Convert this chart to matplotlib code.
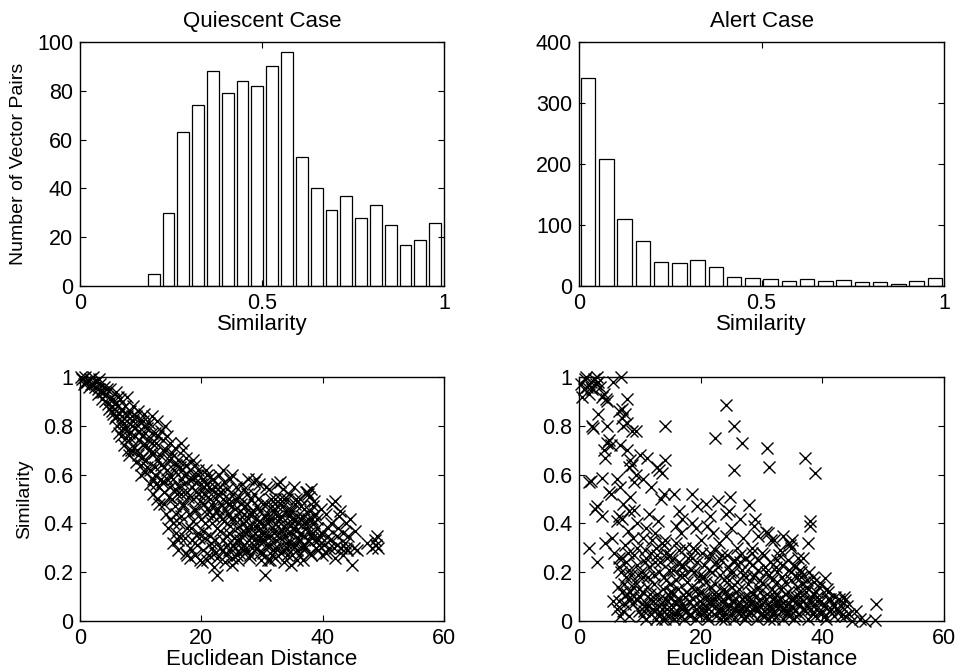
import numpy as np
import matplotlib.pyplot as plt
from matplotlib.ticker import FormatStrFormatter

plt.rcParams['font.family'] = ['Liberation Sans', 'DejaVu Sans']

# histogram counts (20 bins each, MATLAB hist style)
quiet_counts = [5, 30, 63, 74, 88, 79, 84, 82, 90, 96,
                53, 40, 31, 37, 28, 33, 25, 17, 19, 26]
quiet_range = (0.182, 0.996)
alert_counts = [341, 208, 110, 73, 39, 38, 43, 31, 15, 13,
                11, 9, 11, 9, 10, 6, 7, 4, 9, 13]
alert_range = (0.0, 1.0)

# quiescent case: euclidean distance vs similarity
q_dist = [
    0.3, 0.8, 1.2, 1.6, 2.0, 2.2, 0.6, 1.5,
    2.6, 3.0, 3.3, 3.8, 2.9, 4.0, 3.6,
    4.3, 4.6, 4.9, 5.2, 5.4, 5.7, 5.9, 4.8,
    6.1, 6.3, 6.6, 6.8, 7.0, 7.2, 7.4, 7.6, 7.8, 6.5, 7.3,
    8.1, 8.3, 8.5, 8.7, 8.9, 9.1, 9.3, 9.5, 9.7, 9.9, 8.6, 9.4,
    10.1, 10.3, 10.5, 10.7, 10.9, 11.1, 11.3, 11.5, 11.7, 11.9, 10.6, 11.2, 11.8, 10.4,
    12.1, 12.3, 12.5, 12.7, 12.9, 13.1, 13.3, 13.5, 13.7, 13.9, 12.6, 13.2, 13.8, 12.4, 14.0,
    14.1, 14.3, 14.5, 14.7, 14.9, 15.1, 15.3, 15.5, 15.7, 15.9, 14.6, 15.2, 15.8, 14.4, 15.6, 15.0,
    16.1, 16.3, 16.5, 16.7, 16.9, 17.1, 17.3, 17.5, 17.7, 17.9, 16.6, 17.2, 17.8, 16.4, 17.0, 16.8,
    18.1, 18.3, 18.5, 18.7, 18.9, 19.1, 19.3, 19.5, 19.7, 19.9, 18.6, 19.2, 19.8, 18.4, 19.0, 19.4,
    20.1, 20.3, 20.5, 20.7, 20.9, 21.1, 21.3, 21.5, 21.7, 21.9, 20.6, 21.2, 21.8, 20.4, 21.0, 21.4,
    22.1, 22.3, 22.5, 22.7, 22.9, 23.1, 23.3, 23.5, 23.7, 23.9, 22.6, 23.2, 23.8, 22.4, 23.0, 23.6,
    24.1, 24.3, 24.5, 24.7, 24.9, 25.1, 25.3, 25.5, 25.7, 25.9, 24.6, 25.2, 25.8, 24.4, 25.0, 25.4,
    26.1, 26.3, 26.5, 26.7, 26.9, 27.1, 27.3, 27.5, 27.7, 27.9, 26.6, 27.2, 27.8, 26.4, 27.0, 27.4,
    28.1, 28.3, 28.5, 28.7, 28.9, 29.1, 29.3, 29.5, 29.7, 29.9, 28.6, 29.2, 29.8, 28.4, 29.0, 29.4,
    30.1, 30.3, 30.5, 30.7, 30.9, 31.1, 31.3, 31.5, 31.7, 31.9, 30.6, 31.2, 31.8, 30.4, 31.0, 31.4,
    32.1, 32.3, 32.5, 32.7, 32.9, 33.1, 33.3, 33.5, 33.7, 33.9, 32.6, 33.2, 33.8, 32.4, 33.0, 33.6,
    34.1, 34.3, 34.5, 34.7, 34.9, 35.1, 35.3, 35.5, 35.7, 35.9, 34.6, 35.2, 35.8, 34.4, 35.0, 35.6,
    36.1, 36.3, 36.5, 36.7, 36.9, 37.1, 37.3, 37.5, 37.7, 37.9, 36.6, 37.2, 37.8, 36.4, 37.0, 37.6,
    38.1, 38.3, 38.5, 38.7, 38.9, 39.1, 39.3, 39.5, 39.7, 39.9, 38.6, 39.2,
    40.3, 40.6, 40.9, 41.2, 41.5, 41.8, 42.1, 42.4, 42.7, 43.0, 40.5, 42.0,
    43.3, 43.6, 43.9, 44.2, 44.5, 44.8, 45.1, 45.4, 45.7, 44.0,
    47.3, 48.2, 48.6, 49.0, 49.2, 48.8,
    # second pass over the dense band
    0.1, 0.9, 1.8, 2.4, 3.1, 3.4, 4.2, 4.5, 5.0, 5.3,
    5.5, 5.8, 6.0, 6.2, 6.4, 6.7, 6.9, 7.1, 7.5, 7.7, 7.9,
    8.0, 8.2, 8.4, 8.8, 9.0, 9.2, 9.6, 9.8, 10.0,
    10.2, 10.4, 10.8, 11.0, 11.4, 11.6, 11.9, 12.0, 10.7,
    12.2, 12.4, 12.8, 13.0, 13.4, 13.6, 13.9, 12.7, 13.3,
    14.2, 14.4, 14.8, 15.0, 15.4, 15.6, 15.9, 14.8, 15.3, 16.0,
    16.2, 16.4, 16.8, 17.0, 17.4, 17.6, 17.9, 16.6, 17.6, 16.2, 17.4,
    18.2, 18.4, 18.8, 19.0, 19.4, 19.6, 19.9, 18.6, 19.6, 18.2, 19.0,
    20.2, 20.4, 20.8, 21.0, 21.4, 21.6, 21.9, 20.6, 21.6, 20.2, 21.0, 22.0,
    22.2, 22.4, 22.8, 23.0, 23.4, 23.6, 23.9, 22.6, 23.6, 22.2, 23.0,
    24.2, 24.4, 24.8, 25.0, 25.4, 25.6, 25.9, 24.6, 25.6, 24.2, 25.0,
    26.2, 26.4, 26.8, 27.0, 27.4, 27.6, 27.9, 26.6, 27.6, 26.2, 27.0,
    28.2, 28.4, 28.8, 29.0, 29.4, 29.6, 29.9, 28.6, 29.6, 28.2, 29.0,
    30.2, 30.4, 30.8, 31.0, 31.4, 31.6, 31.9, 30.6, 31.6, 30.2, 31.0,
    32.2, 32.4, 32.8, 33.0, 33.4, 33.6, 33.9, 32.6, 33.6, 32.2, 33.0,
    34.2, 34.4, 34.8, 35.0, 35.4, 35.6, 35.9, 34.6, 35.6, 34.2, 35.0,
    36.2, 36.4, 36.8, 37.0, 37.4, 37.6, 37.9, 36.6, 37.4, 38.0,
    38.2, 38.4, 38.8, 39.0, 39.4, 39.8, 38.4,
    40.8, 41.4, 41.0, 42.3, 42.6, 43.4, 43.8, 42.9,
]
q_sim = [
    0.99, 1.00, 0.98, 0.99, 0.97, 1.00, 0.97, 0.96,
    0.98, 0.95, 0.97, 0.94, 0.93, 0.96, 0.91,
    0.93, 0.89, 0.95, 0.86, 0.91, 0.83, 0.94, 0.87,
    0.80, 0.88, 0.91, 0.76, 0.84, 0.72, 0.88, 0.79, 0.92, 0.85, 0.81,
    0.68, 0.75, 0.84, 0.88, 0.71, 0.79, 0.65, 0.86, 0.74, 0.82, 0.80, 0.70,
    0.60, 0.67, 0.85, 0.77, 0.72, 0.63, 0.81, 0.56, 0.69, 0.84, 0.80, 0.74, 0.77, 0.72,
    0.52, 0.60, 0.73, 0.82, 0.66, 0.48, 0.78, 0.57, 0.70, 0.63, 0.56, 0.68, 0.53, 0.77, 0.80,
    0.44, 0.58, 0.38, 0.66, 0.73, 0.50, 0.32, 0.62, 0.54, 0.44, 0.51, 0.69, 0.36, 0.76, 0.71, 0.59,
    0.29, 0.40, 0.63, 0.73, 0.48, 0.56, 0.34, 0.67, 0.27, 0.44, 0.52, 0.60, 0.51, 0.35, 0.70, 0.58,
    0.26, 0.38, 0.58, 0.66, 0.46, 0.53, 0.31, 0.62, 0.25, 0.42, 0.50, 0.57, 0.49, 0.33, 0.64, 0.36,
    0.24, 0.29, 0.55, 0.62, 0.44, 0.51, 0.27, 0.59, 0.40, 0.47, 0.40, 0.55, 0.30, 0.48, 0.60, 0.35,
    0.22, 0.28, 0.19, 0.52, 0.60, 0.43, 0.48, 0.33, 0.57, 0.24, 0.38, 0.53, 0.41, 0.45, 0.30, 0.62,
    0.27, 0.35, 0.50, 0.58, 0.42, 0.23, 0.31, 0.46, 0.55, 0.38, 0.29, 0.52, 0.27, 0.44, 0.60, 0.34,
    0.25, 0.33, 0.48, 0.56, 0.40, 0.29, 0.36, 0.52, 0.58, 0.44, 0.30, 0.47, 0.26, 0.42, 0.54, 0.38,
    0.27, 0.35, 0.45, 0.57, 0.39, 0.30, 0.33, 0.56, 0.41, 0.25, 0.52, 0.47, 0.36, 0.30, 0.58, 0.50,
    0.28, 0.36, 0.19, 0.55, 0.42, 0.31, 0.25, 0.50, 0.38, 0.45, 0.48, 0.54, 0.29, 0.33, 0.40, 0.35,
    0.26, 0.33, 0.56, 0.41, 0.50, 0.28, 0.37, 0.54, 0.24, 0.45, 0.30, 0.43, 0.35, 0.47, 0.57, 0.39,
    0.27, 0.36, 0.52, 0.23, 0.42, 0.31, 0.38, 0.48, 0.25, 0.34, 0.45, 0.55, 0.29, 0.32, 0.40, 0.37,
    0.27, 0.33, 0.47, 0.25, 0.40, 0.30, 0.53, 0.52, 0.36, 0.28, 0.43, 0.38, 0.51, 0.36, 0.31, 0.42,
    0.27, 0.34, 0.49, 0.44, 0.30, 0.38, 0.29, 0.35, 0.46, 0.27, 0.40, 0.33,
    0.31, 0.28, 0.38, 0.33, 0.48, 0.30, 0.26, 0.35, 0.43, 0.30, 0.44, 0.49,
    0.27, 0.32, 0.40, 0.35, 0.42, 0.23, 0.30, 0.37, 0.29, 0.29,
    0.32, 0.30, 0.33, 0.35, 0.30, 0.31,
    # second pass over the dense band
    1.00, 0.98, 0.97, 0.96, 0.99, 0.94, 0.90, 0.95, 0.91, 0.88,
    0.85, 0.89, 0.84, 0.92, 0.77, 0.82, 0.87, 0.79, 0.75, 0.84, 0.70,
    0.77, 0.86, 0.70, 0.82, 0.76, 0.84, 0.68, 0.78, 0.64,
    0.76, 0.82, 0.66, 0.79, 0.70, 0.62, 0.73, 0.58, 0.61,
    0.69, 0.63, 0.76, 0.55, 0.64, 0.74, 0.48, 0.50, 0.58,
    0.70, 0.62, 0.55, 0.67, 0.58, 0.47, 0.64, 0.42, 0.40, 0.52,
    0.66, 0.55, 0.62, 0.47, 0.64, 0.53, 0.58, 0.43, 0.38, 0.33, 0.28,
    0.62, 0.55, 0.59, 0.45, 0.60, 0.52, 0.56, 0.41, 0.34, 0.30, 0.27,
    0.58, 0.52, 0.56, 0.46, 0.50, 0.54, 0.43, 0.34, 0.32, 0.37, 0.25, 0.58,
    0.55, 0.50, 0.46, 0.55, 0.42, 0.50, 0.46, 0.26, 0.29, 0.33, 0.37,
    0.54, 0.48, 0.39, 0.47, 0.42, 0.50, 0.33, 0.36, 0.30, 0.31, 0.26,
    0.51, 0.45, 0.37, 0.44, 0.41, 0.48, 0.33, 0.35, 0.29, 0.28, 0.31,
    0.50, 0.44, 0.36, 0.42, 0.39, 0.45, 0.33, 0.33, 0.28, 0.39, 0.30,
    0.48, 0.43, 0.35, 0.44, 0.42, 0.47, 0.36, 0.31, 0.27, 0.39, 0.25,
    0.50, 0.43, 0.36, 0.42, 0.47, 0.50, 0.32, 0.39, 0.29, 0.30, 0.34,
    0.50, 0.43, 0.36, 0.45, 0.42, 0.50, 0.40, 0.39, 0.31, 0.30, 0.27,
    0.50, 0.42, 0.35, 0.46, 0.40, 0.33, 0.45, 0.30, 0.53, 0.54,
    0.42, 0.36, 0.33, 0.42, 0.31, 0.36, 0.47,
    0.35, 0.40, 0.30, 0.31, 0.38, 0.36, 0.30, 0.45,
]

# alert case: euclidean distance vs similarity
a_dist = [
    # top-left cluster
    0.4, 0.8, 1.0, 1.3, 1.6, 1.9, 2.2, 2.5, 2.8, 3.0, 3.2, 3.5, 3.8, 4.1, 4.4,
    0.5, 1.1, 2.0, 6.9, 7.9, 5.6, 4.6,
    # diagonal arm
    2.1, 2.3, 3.2, 4.6, 6.5, 7.1, 7.0, 7.6, 7.9, 8.7, 9.3, 7.3, 4.6, 5.2, 4.1,
    4.3, 5.0, 7.9, 8.4, 8.2, 8.7, 9.3, 10.0, 11.2, 12.8, 13.2, 14.2, 13.6, 10.6,
    14.2, 6.8, 9.0, 11.8,
    # upper-right stragglers
    22.4, 24.1, 25.4, 26.8, 25.4, 30.9, 31.2, 37.2, 38.8,
    # left middle
    1.6, 2.0, 3.8, 6.2, 5.0, 5.3, 6.8, 3.0, 3.8, 2.7, 7.3, 8.4, 6.2, 9.0, 9.5,
    7.0, 6.6, 8.0, 8.8, 1.7, 3.0, 4.3, 5.7, 5.5, 7.5, 6.5, 9.5, 8.2,
    # middle band
    13.4, 14.0, 15.6, 16.5, 18.6, 19.4, 20.8, 21.5, 22.8, 24.9, 24.6, 27.9, 24.1,
    11.0, 12.0, 12.5, 13.7, 14.2, 14.0, 15.9, 16.8, 17.5, 18.5, 19.2, 20.0, 21.0,
    22.0, 23.0, 24.1, 25.0, 26.0, 27.0, 28.5, 28.7, 29.5, 30.7, 31.5, 32.0, 33.0,
    34.5, 34.7, 35.0, 34.9, 36.0, 37.7, 38.0, 38.0, 11.5, 10.5, 13.0, 17.0, 26.5,
    29.0, 31.0, 33.5, 10.8, 12.8, 15.0, 16.0, 19.0, 21.5, 23.5, 25.5, 27.5, 30.0,
    32.5, 35.5, 36.5,
    # dense floor
    6.6, 6.9, 7.2, 7.4, 7.7, 7.9, 6.2, 5.6,
    8.2, 8.4, 8.6, 8.9, 9.2, 9.5, 9.8, 9.0, 8.5,
    10.1, 10.3, 10.6, 10.9, 11.2, 11.5, 11.8, 11.0, 10.5, 11.6,
    12.1, 12.3, 12.6, 12.9, 13.2, 13.5, 13.8, 12.5, 13.0, 13.7,
    14.1, 14.3, 14.6, 14.9, 15.2, 15.5, 15.8, 14.5, 15.0, 15.6,
    16.1, 16.3, 16.6, 16.9, 17.2, 17.5, 17.8, 16.5, 17.0, 17.4,
    18.1, 18.3, 18.6, 18.9, 19.2, 19.5, 19.8, 18.5, 19.3, 19.9,
    20.1, 20.3, 20.6, 20.9, 21.2, 21.5, 21.8, 20.5, 21.3, 20.8,
    22.1, 22.3, 22.6, 22.9, 23.2, 23.5, 23.8, 22.5, 23.3, 23.9,
    24.1, 24.3, 24.6, 24.9, 25.2, 25.5, 25.8, 24.5, 25.3, 25.9,
    26.1, 26.3, 26.6, 26.9, 27.2, 27.5, 27.8, 26.5, 27.3, 27.9,
    28.1, 28.3, 28.6, 28.9, 29.2, 29.5, 29.8, 28.5, 29.4, 29.9,
    30.1, 30.3, 30.6, 30.9, 31.2, 31.5, 31.8, 30.5, 31.3, 31.9,
    32.1, 32.3, 32.6, 32.9, 33.2, 33.5, 33.8, 32.5, 33.4, 33.9,
    34.1, 34.3, 34.6, 34.9, 35.2, 35.5, 35.8, 34.5, 35.4, 35.9,
    36.1, 36.4, 36.7, 37.0, 37.3, 37.6, 37.9, 36.5, 37.5,
    38.2, 38.5, 38.8, 39.1, 39.4, 39.7, 38.6, 39.6,
    40.2, 40.4, 40.6, 40.9, 41.3, 41.7, 41.0, 41.9,
    42.3, 42.7, 43.1, 43.5, 43.7, 44.0, 44.4, 44.8, 43.0,
    45.5, 46.2, 48.7, 48.9, 47.0,
    # extra low-similarity pairs
    10.7, 11.4, 12.2, 12.9, 13.4, 14.4, 15.4, 16.0, 16.7, 17.8, 18.7, 19.6, 20.4,
    21.0, 21.7, 22.4, 23.0, 23.7, 24.4, 25.1, 25.6, 26.4, 27.0, 27.7, 28.4, 29.0,
    29.7, 30.4, 31.0, 31.7, 32.4, 33.0, 33.7, 34.4, 35.0, 35.7, 36.3, 37.2, 38.0,
    39.0, 15.0, 18.0, 24.0, 28.0, 32.0,
    # second pass: left block, 0.1-0.3 layer, floor
    6.4, 6.8, 7.0, 7.5, 7.8, 6.5, 8.1, 8.3, 8.8, 9.3, 9.7, 9.9, 7.1, 8.0,
    10.2, 10.8, 11.3, 11.9, 12.4, 12.7, 13.3, 13.9, 14.3, 14.8, 15.3, 15.9, 16.4,
    16.9, 17.3, 17.9, 18.4, 18.8, 19.4, 19.9, 20.3, 20.9, 21.4, 21.9, 22.3, 22.8,
    23.4, 23.9, 24.3, 24.8, 25.4, 25.9, 26.4, 26.8, 27.4, 27.9, 28.4, 28.8, 29.4,
    29.8, 30.4, 30.8, 31.4, 31.8, 32.4, 32.8, 33.4, 33.8, 34.4, 34.8, 35.4, 35.8,
    36.4, 36.8, 37.4, 37.8, 38.4, 39.0,
    10.4, 11.0, 11.7, 12.4, 13.1, 13.6, 14.2, 14.7, 15.3, 15.9, 16.4, 17.0, 17.6,
    18.2, 18.8, 19.4, 20.0, 20.6, 21.1, 21.6, 22.2, 22.8, 23.4, 24.0, 24.6, 25.2,
    25.8, 26.2, 26.8, 27.4, 28.0, 28.6, 29.2, 29.8, 30.2, 30.8, 31.4, 32.0, 32.6,
    33.2, 33.8, 34.2, 34.8, 35.6, 36.2, 36.8, 37.4, 38.4, 39.2, 40.0, 40.8, 41.5,
    42.0, 42.8, 39.8, 40.4, 41.2, 43.8,
]
a_sim = [
    0.97, 0.95, 0.99, 0.96, 0.93, 0.98, 0.95, 0.99, 0.97, 1.00, 0.98, 0.96, 0.92, 0.93, 0.91,
    0.92, 1.00, 0.96, 1.00, 0.91, 0.98, 0.90,
    0.80, 0.79, 0.85, 0.80, 0.86, 0.83, 0.87, 0.85, 0.81, 0.78, 0.78, 0.80, 0.73, 0.72, 0.70,
    0.67, 0.74, 0.70, 0.66, 0.63, 0.64, 0.60, 0.68, 0.67, 0.63, 0.62, 0.66, 0.605, 0.58,
    0.80, 0.72, 0.57, 0.55,
    0.75, 0.885, 0.80, 0.73, 0.62, 0.71, 0.63, 0.67, 0.605,
    0.57, 0.575, 0.585, 0.58, 0.53, 0.52, 0.55, 0.47, 0.43, 0.46, 0.48, 0.51, 0.41, 0.455, 0.40,
    0.42, 0.43, 0.37, 0.34, 0.30, 0.24, 0.32, 0.28, 0.34, 0.31, 0.26, 0.30, 0.45,
    0.50, 0.52, 0.52, 0.45, 0.52, 0.47, 0.48, 0.43, 0.49, 0.51, 0.45, 0.475, 0.44,
    0.38, 0.33, 0.36, 0.32, 0.33, 0.31, 0.39, 0.36, 0.30, 0.40, 0.38, 0.33, 0.39,
    0.36, 0.32, 0.35, 0.38, 0.30, 0.34, 0.30, 0.39, 0.35, 0.365, 0.33, 0.33, 0.29,
    0.32, 0.31, 0.33, 0.30, 0.26, 0.32, 0.41, 0.39, 0.44, 0.34, 0.41, 0.42, 0.42,
    0.42, 0.36, 0.35, 0.29, 0.27, 0.27, 0.32, 0.29, 0.28, 0.27, 0.25, 0.26, 0.28,
    0.25, 0.22, 0.20,
    0.08, 0.20, 0.04, 0.15, 0.24, 0.11, 0.05, 0.08,
    0.02, 0.12, 0.19, 0.07, 0.16, 0.23, 0.04, 0.27, 0.09,
    0.10, 0.02, 0.18, 0.06, 0.14, 0.22, 0.03, 0.26, 0.12, 0.09,
    0.05, 0.15, 0.01, 0.11, 0.20, 0.07, 0.13, 0.24, 0.03, 0.01,
    0.09, 0.17, 0.02, 0.12, 0.05, 0.21, 0.08, 0.26, 0.15, 0.01,
    0.04, 0.13, 0.19, 0.07, 0.01, 0.10, 0.16, 0.24, 0.22, 0.05,
    0.08, 0.02, 0.14, 0.20, 0.05, 0.11, 0.17, 0.26, 0.01, 0.08,
    0.03, 0.12, 0.18, 0.06, 0.01, 0.14, 0.09, 0.23, 0.21, 0.04,
    0.07, 0.15, 0.02, 0.11, 0.19, 0.05, 0.13, 0.24, 0.01, 0.08,
    0.03, 0.10, 0.17, 0.06, 0.14, 0.01, 0.09, 0.22, 0.20, 0.04,
    0.07, 0.13, 0.02, 0.19, 0.10, 0.05, 0.15, 0.24, 0.01, 0.08,
    0.04, 0.12, 0.18, 0.06, 0.01, 0.14, 0.09, 0.23, 0.21, 0.03,
    0.07, 0.15, 0.02, 0.11, 0.19, 0.05, 0.13, 0.22, 0.01, 0.09,
    0.03, 0.10, 0.16, 0.06, 0.13, 0.01, 0.08, 0.20, 0.18, 0.04,
    0.06, 0.12, 0.02, 0.17, 0.09, 0.04, 0.14, 0.21, 0.01, 0.07,
    0.03, 0.10, 0.15, 0.05, 0.12, 0.01, 0.08, 0.18, 0.17,
    0.05, 0.11, 0.02, 0.08, 0.14, 0.03, 0.16, 0.155,
    0.06, 0.175, 0.01, 0.09, 0.04, 0.07, 0.12, 0.02,
    0.05, 0.09, 0.02, 0.10, 0.086, 0.06, 0.03, 0.00, 0.06,
    0.04, 0.01, 0.004, 0.07, 0.00,
    0.04, 0.06, 0.08, 0.05, 0.03, 0.05, 0.03, 0.07, 0.02, 0.04, 0.06, 0.03, 0.07,
    0.10, 0.04, 0.09, 0.05, 0.03, 0.06, 0.08, 0.05, 0.04, 0.06, 0.03, 0.08, 0.05,
    0.06, 0.04, 0.07, 0.03, 0.06, 0.09, 0.05, 0.04, 0.06, 0.10, 0.07, 0.04, 0.09,
    0.05, 0.10, 0.11, 0.12, 0.10, 0.12,
    # second pass
    0.14, 0.02, 0.12, 0.07, 0.18, 0.22, 0.09, 0.21, 0.14, 0.09, 0.19, 0.13, 0.26, 0.28,
    0.20, 0.24, 0.18, 0.28, 0.19, 0.30, 0.24, 0.18, 0.28, 0.21, 0.25, 0.17, 0.29,
    0.23, 0.19, 0.26, 0.21, 0.30, 0.24, 0.19, 0.28, 0.16, 0.26, 0.20, 0.29, 0.22,
    0.25, 0.17, 0.27, 0.20, 0.24, 0.16, 0.27, 0.21, 0.18, 0.24, 0.28, 0.19, 0.25,
    0.17, 0.27, 0.20, 0.24, 0.17, 0.22, 0.27, 0.23, 0.16, 0.25, 0.20, 0.23, 0.18,
    0.21, 0.26, 0.14, 0.20, 0.18, 0.12,
    0.07, 0.01, 0.11, 0.04, 0.09, 0.05, 0.01, 0.08, 0.12, 0.03, 0.09, 0.05, 0.12,
    0.03, 0.09, 0.13, 0.05, 0.10, 0.02, 0.07, 0.11, 0.04, 0.08, 0.01, 0.10, 0.03,
    0.12, 0.06, 0.09, 0.02, 0.06, 0.11, 0.04, 0.12, 0.02, 0.09, 0.06, 0.01, 0.08,
    0.04, 0.11, 0.03, 0.09, 0.02, 0.12, 0.08, 0.06, 0.03, 0.10, 0.04, 0.13, 0.05,
    0.10, 0.04, 0.08, 0.02, 0.09, 0.02,
]

assert len(q_dist) == len(q_sim), (len(q_dist), len(q_sim))
assert len(a_dist) == len(a_sim), (len(a_dist), len(a_sim))

FS = 16
TICK_FS = 15.5


def style_axes(ax):
    ax.tick_params(direction='in', top=True, right=True, length=4, width=0.8,
                   labelsize=TICK_FS, pad=5)
    for sp in ax.spines.values():
        sp.set_linewidth(1.0)


def hist_bars(ax, counts, lo, hi):
    n = len(counts)
    step = (hi - lo) / n
    centers = lo + step * (np.arange(n) + 0.5)
    ax.bar(centers, counts, width=0.8 * step, facecolor='white',
           edgecolor='black', linewidth=0.9)


fig = plt.figure(figsize=(9.58, 6.71), dpi=100)
W, H = 958, 671


def add_ax(left, top, right, bottom):
    return fig.add_axes([left / W, 1 - bottom / H, (right - left) / W, (bottom - top) / H])


ax1 = add_ax(80, 42, 444, 286)
ax2 = add_ax(579, 42, 944, 286)
ax3 = add_ax(80, 377, 444, 621)
ax4 = add_ax(579, 377, 944, 621)

# top-left: quiescent histogram
hist_bars(ax1, quiet_counts, *quiet_range)
ax1.set_xlim(0, 1)
ax1.set_ylim(0, 100)
ax1.set_xticks([0, 0.5, 1])
ax1.set_yticks(range(0, 101, 20))
ax1.set_title('Quiescent Case', fontsize=FS, pad=11)
ax1.set_xlabel('Similarity', fontsize=FS, labelpad=0)
ax1.set_ylabel('Number of Vector Pairs', fontsize=14, va='center')
ax1.yaxis.set_label_coords(-0.168, 0.5)

# top-right: alert histogram
hist_bars(ax2, alert_counts, *alert_range)
ax2.set_xlim(0, 1)
ax2.set_ylim(0, 400)
ax2.set_xticks([0, 0.5, 1])
ax2.set_yticks(range(0, 401, 100))
ax2.set_title('Alert Case', fontsize=FS, pad=11)
ax2.set_xlabel('Similarity', fontsize=FS, labelpad=0)

# bottom row: scatter plots
for ax, xs, ys in [(ax3, q_dist, q_sim), (ax4, a_dist, a_sim)]:
    ax.plot(xs, ys, 'x', color='black', markersize=9, markeredgewidth=1.0,
            clip_on=False)
    ax.set_xlim(0, 60)
    ax.set_ylim(0, 1)
    ax.set_xticks([0, 20, 40, 60])
    ax.set_yticks([0, 0.2, 0.4, 0.6, 0.8, 1])
    ax.set_xlabel('Euclidean Distance', fontsize=FS, labelpad=0)

ax3.set_ylabel('Similarity', fontsize=14, va='center')
ax3.yaxis.set_label_coords(-0.151, 0.5)

for ax in (ax1, ax2, ax3, ax4):
    style_axes(ax)
    ax.xaxis.set_major_formatter(FormatStrFormatter('%g'))
    ax.yaxis.set_major_formatter(FormatStrFormatter('%g'))

fig.savefig('out.png', dpi=100)
